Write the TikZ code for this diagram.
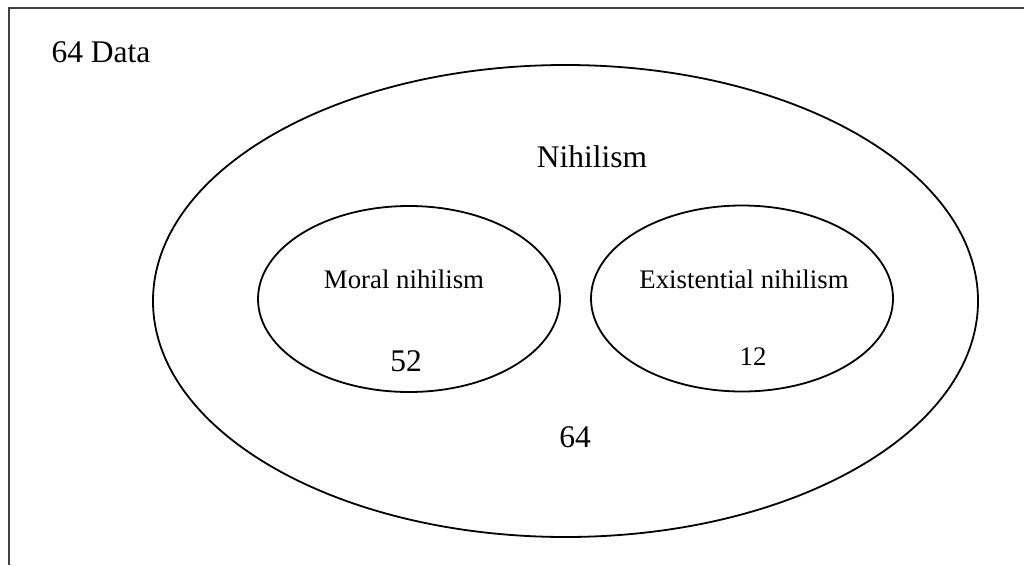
\documentclass[tikz,border=0pt]{standalone}
\usepackage{fontspec}
\setmainfont{Liberation Serif}
\begin{document}
\begin{tikzpicture}[x=1pt,y=-1pt,
  frameline/.style={draw=black!75,line width=2pt},
  setshape/.style={draw=black,line width=1.8pt},
  big/.style={font=\fontsize{31.5}{37}\selectfont,inner sep=0pt},
  small/.style={font=\fontsize{26.8}{32}\selectfont,inner sep=0pt}]
\useasboundingbox (0,0) rectangle (1024,565);
\coordinate (ftop) at (1024,8);
\coordinate (fcorner) at (9,8);
\coordinate (fbot) at (9,565);
\draw[frameline] (ftop) -- (fcorner) -- (fbot);
\draw[setshape] (565.5,301) ellipse [x radius=412.5, y radius=236];
\draw[setshape] (409,299) ellipse [x radius=151, y radius=93];
\draw[setshape] (742,298.5) ellipse [x radius=151, y radius=93];
\node[big] (data) at (101,52) {64 Data};
\node[big] (nih) at (592,157) {Nihilism};
\node[small] (moral) at (404,279) {Moral nihilism};
\node[small] (exist) at (744,279) {Existential nihilism};
\node[big] (n52) at (406,361) {52};
\node[small] (n12) at (753,357) {12};
\node[big] (n64) at (575,437) {64};
\end{tikzpicture}
\end{document}
